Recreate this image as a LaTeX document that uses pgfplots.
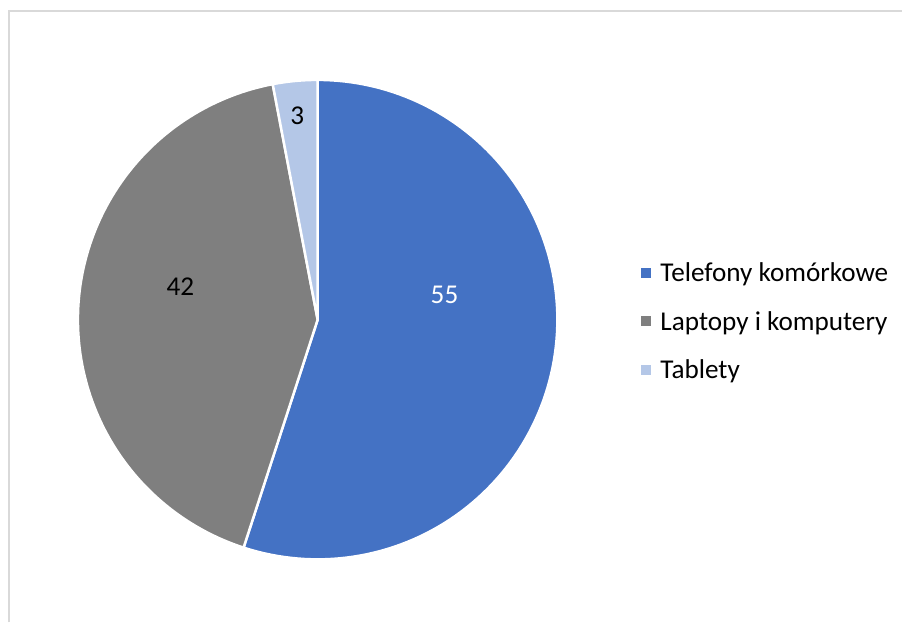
\documentclass[border=0pt]{standalone}
\usepackage{pgfplots}
\pgfplotsset{compat=1.18}
\usepackage{fontspec}
\setmainfont{Carlito}
\definecolor{cblue}{HTML}{4472C4}
\definecolor{cgray}{HTML}{7F7F7F}
\definecolor{clight}{HTML}{B4C7E7}
\definecolor{cborder}{HTML}{D9D9D9}
% values
\def\va{55}\def\vb{42}\def\vc{3}
\pgfmathsetmacro{\tot}{\va+\vb+\vc}
\pgfmathsetmacro{\azero}{90}
\pgfmathsetmacro{\aone}{\azero-\va/\tot*360}
\pgfmathsetmacro{\atwo}{\aone-\vb/\tot*360}
\pgfmathsetmacro{\athree}{\atwo-\vc/\tot*360}
\def\cx{318}\def\cy{303}\def\rr{240}
\begin{document}
\begin{tikzpicture}
\begin{axis}[
  width=903bp, height=623bp, scale only axis,
  xmin=0, xmax=903, ymin=0, ymax=623,
  hide axis, clip=false,
  legend cell align=left,
  legend image code/.code={\fill[#1, draw=none] (0bp,-5bp) rectangle (10bp,5bp);},
  legend style={draw=none, fill=none, font=\fontsize{27.2bp}{32bp}\selectfont,
    at={(axis cs:642,360)}, anchor=north west, row sep=28bp, column sep=9bp,
    inner sep=0pt, nodes={inner sep=0pt}},
]
\path (axis cs:0,0) rectangle (axis cs:903,623);
\draw[cborder, line width=2bp] (axis cs:9,0) -- (axis cs:9,611.5) -- (axis cs:903,611.5);
\addplot[forget plot, fill=cblue, draw=white, line width=2.5bp, domain=\aone:\azero, samples=120, variable=\t]
  ({\cx+\rr*cos(t)}, {\cy+\rr*sin(t)}) -- (axis cs:\cx,\cy) -- cycle;
\addplot[forget plot, fill=cgray, draw=white, line width=2.5bp, domain=\atwo:\aone, samples=120, variable=\t]
  ({\cx+\rr*cos(t)}, {\cy+\rr*sin(t)}) -- (axis cs:\cx,\cy) -- cycle;
\addplot[forget plot, fill=clight, draw=white, line width=2.5bp, domain=\athree:\atwo, samples=20, variable=\t]
  ({\cx+\rr*cos(t)}, {\cy+\rr*sin(t)}) -- (axis cs:\cx,\cy) -- cycle;
\node[font=\fontsize{27.2bp}{32bp}\selectfont, text=white] at (axis cs:445,328) {55};
\node[font=\fontsize{27.2bp}{32bp}\selectfont, text=black] at (axis cs:180.5,336) {42};
\node[font=\fontsize{27.2bp}{32bp}\selectfont, text=black] at (axis cs:297.5,507) {3};
\addlegendimage{fill=cblue}
\addlegendentry{Telefony komórkowe}
\addlegendimage{fill=cgray}
\addlegendentry{Laptopy i komputery}
\addlegendimage{fill=clight}
\addlegendentry{Tablety}
\end{axis}
\end{tikzpicture}
\end{document}
